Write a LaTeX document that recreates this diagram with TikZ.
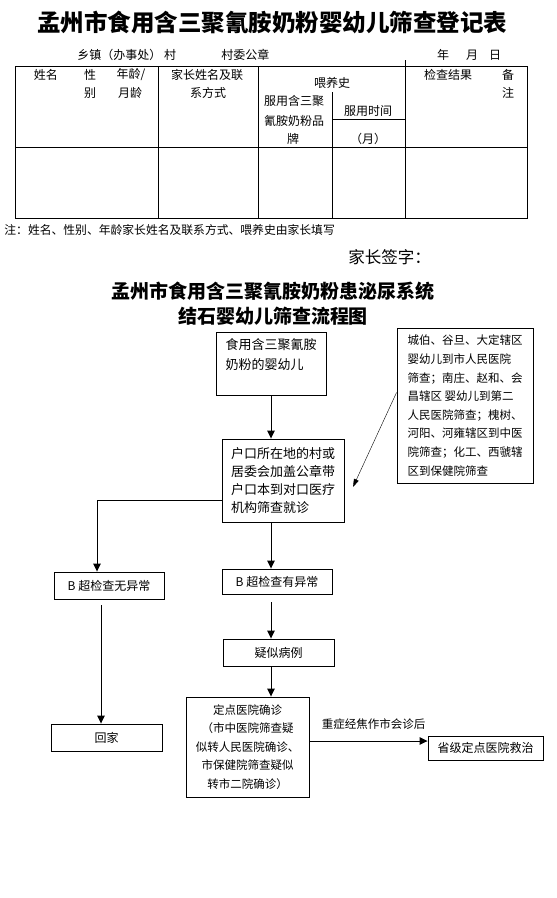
\documentclass[tikz,border=0pt]{standalone}
\usepackage{fontspec}
\setmainfont{Noto Sans CJK SC}
\usetikzlibrary{arrows.meta}

\tikzset{
  box/.style={draw, inner sep=0pt},
  arr/.style={-{Triangle[length=8pt,width=7.5pt]}},
  cell/.style={font=\fontsize{12}{18}\selectfont, inner sep=0pt},
}

\begin{document}
\begin{tikzpicture}[x=1pt,y=-1pt,line width=0.9pt]
      \path[use as bounding box, fill=white] (0,0) rectangle (557,898);

      % Title of the register
      \node[font=\fontsize{23.5}{26}\selectfont\bfseries] (title) at (272.5,22)
        {孟州市食用含三聚氰胺奶粉婴幼儿筛查登记表};
      \node[cell, anchor=west] (town) at (77,55) {乡镇（办事处）};
      \node[cell] (village) at (170,55) {村};
      \node[cell, anchor=west] (seal) at (221,55) {村委公章};
      \node[cell] (year) at (443,55) {年};
      \node[cell] (month) at (472,55) {月};
      \node[cell] (day) at (495,55) {日};

      % Draw the table lines
      \draw (15,66) rectangle (527,218);
      \draw (15,147) -- (527,147);
      \foreach \x in {158,258} {
        \draw (\x,66) -- (\x,218);
      }
      \draw (405,60) -- (405,218);
      \draw (332,92) -- (332,218);
      \draw (332,119) -- (405,119);

      % Column headers
      \foreach \x/\y/\t [count=\i] in {46/75/姓名, 90/75/性, 90/93/别,
        131/75/{年龄/}, 130/93/月龄, 207/75/家长姓名及联, 208/93/系方式,
        332/83/喂养史, 294/101/服用含三聚, 294/121/氰胺奶粉品, 293/139/牌,
        368/111/服用时间, 368/139/（月）, 448/75/检查结果, 508/75/备, 508/93/注} {
        \node[cell] (head\i) at (\x,\y) {\t};
      }

      \node[anchor=west, font=\fontsize{11.8}{14}\selectfont, inner sep=0pt] (remark) at (4,230)
        {注：姓名、性别、年龄家长姓名及联系方式、喂养史由家长填写};
      \node[anchor=west, font=\fontsize{16.5}{18}\selectfont, inner sep=0pt] (sign) at (348,257) {家长签字：};

      % Title of the flow chart
      \node[font=\fontsize{19}{22}\selectfont\bfseries] (flowtitle) at (273,291)
        {孟州市食用含三聚氰胺奶粉患泌尿系统};
      \node[font=\fontsize{19}{22}\selectfont\bfseries] (flowtitleb) at (273,316)
        {结石婴幼儿筛查流程图};

      % Boxes of the flow chart
      \node[box, minimum width=110pt, minimum height=63pt, align=left,
        font=\fontsize{13}{20}\selectfont] (feed) at (271,363.5)
        {食用含三聚氰胺\\奶粉的婴幼儿\\~};
      \node[box, minimum width=122pt, minimum height=83pt, align=left,
        font=\fontsize{13}{18}\selectfont] (reg) at (283,480.5)
        {户口所在地的村或\\居委会加盖公章带\\户口本到对口医疗\\机构筛查就诊};
      \node[box, minimum width=136pt, minimum height=155pt, align=left,
        font=\fontsize{11.5}{18.6}\selectfont] (route) at (465,405.5)
        {城伯、谷旦、大定辖区\\婴幼儿到市人民医院\\筛查；南庄、赵和、会\\昌辖区 婴幼儿到第二\\人民医院筛查；槐树、\\河阳、河雍辖区到中医\\院筛查；化工、西虢辖\\区到保健院筛查};
      \node[box, minimum width=110pt, minimum height=27pt, font=\fontsize{12}{14}\selectfont]
        (normal) at (109,585.5) {B 超检查无异常};
      \node[box, minimum width=110pt, minimum height=25pt, font=\fontsize{12}{14}\selectfont]
        (abnormal) at (277,581.5) {B 超检查有异常};
      \node[box, minimum width=111pt, minimum height=27pt, font=\fontsize{12}{14}\selectfont]
        (suspect) at (278.5,652.5) {疑似病例};
      \node[box, minimum width=111pt, minimum height=27pt, font=\fontsize{12}{14}\selectfont]
        (home) at (106.5,737.5) {回家};
      \node[box, minimum width=123pt, minimum height=100pt, align=center,
        font=\fontsize{11.5}{18.5}\selectfont] (confirm) at (247.5,747)
        {定点医院确诊\\（市中医院筛查疑\\似转人民医院确诊、\\市保健院筛查疑似\\转市二院确诊）};
      \node[box, minimum width=115pt, minimum height=24pt, font=\fontsize{12}{14}\selectfont]
        (province) at (485.5,748) {省级定点医院救治};

      % Helper points for the connectors
      \coordinate (hit) at (353,487);
      \coordinate (left) at ([xshift=-12pt]normal.north);
      \coordinate (drop) at ([xshift=-8pt]normal.south);
      \coordinate (out) at ([yshift=6pt]confirm.east);

      % Draw the arrows
      \draw[arr] (feed.south) -- (feed.south |- reg.north);
      \draw[thin, -{Triangle[length=8pt,width=5pt]}] ([yshift=13pt]route.west) -- (hit);
      \draw[arr] ([yshift=-20pt]reg.west) -| (left);
      \draw[arr] (reg.south -| feed.south) -- (abnormal.north -| feed.south);
      \draw[arr, shorten <=8pt] (abnormal.south -| feed.south) -- (suspect.north -| feed.south);
      \draw[arr] (suspect.south -| feed.south) -- (confirm.north -| feed.south);
      \draw[arr, shorten <=6pt] (drop) -- (drop |- home.north);
      \draw[arr] (out) -- (out -| province.west)
        node[midway, above=11pt, xshift=5pt, inner sep=0pt, font=\fontsize{11.5}{14}\selectfont]
        (severe) {重症经焦作市会诊后};
    \end{tikzpicture}
\end{document}
